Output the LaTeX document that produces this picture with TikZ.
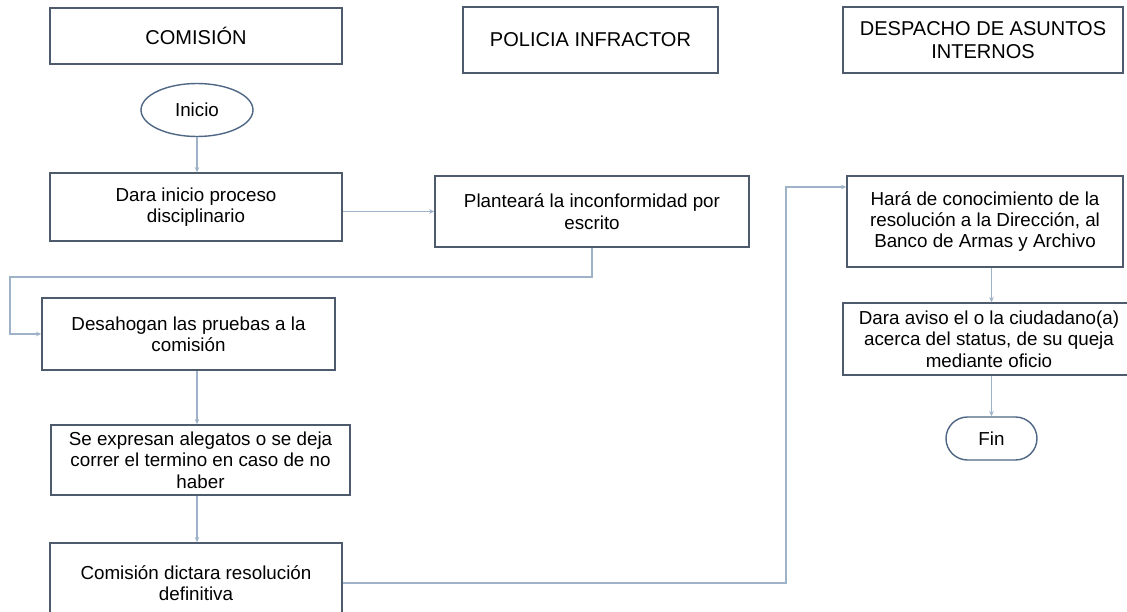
\documentclass[tikz,border=0pt]{standalone}
\usepackage{fontspec}
\setmainfont{Liberation Sans}
\usetikzlibrary{arrows.meta,shapes.geometric}
\definecolor{boxline}{HTML}{4D5B6C}
\definecolor{ovalline}{HTML}{4F6784}
\definecolor{linkline}{HTML}{9FB3C8}
\begin{document}
\begin{tikzpicture}[x=0.02cm, y=-0.02cm, >={Stealth[length=3pt,width=2.6pt]},
  head/.style={draw=boxline, line width=0.8pt, align=center, inner sep=2pt, font=\fontsize{11.4}{13.2}\selectfont},
  stepbox/.style={draw=boxline, line width=0.8pt, align=center, inner sep=2pt, font=\fontsize{10.7}{12.2}\selectfont},
  link/.style={draw=linkline, line width=0.6pt, ->}]
\useasboundingbox (0,0) rectangle (1127,612);
\node[head, minimum width=5.84cm, minimum height=1.12cm] (hcom) at (196,36) {COMISIÓN};
\node[head, minimum width=5.10cm, minimum height=1.32cm] (hpol) at (590.5,40) {POLICIA INFRACTOR};
\node[head, minimum width=5.60cm, minimum height=1.32cm] (hdes) at (983,40) {DESPACHO DE ASUNTOS\\INTERNOS};

\node[ellipse, draw=ovalline, line width=0.8pt, minimum width=2.24cm, minimum height=1.06cm, font=\fontsize{10.7}{12.2}\selectfont] (inicio) at (197,110) {Inicio};
\node[stepbox, minimum width=5.84cm, minimum height=1.36cm] (dara) at (196,207) {Dara inicio proceso\\disciplinario};
\node[stepbox, minimum width=6.28cm, minimum height=1.42cm] (plant) at (592,211.5) {Planteará la inconformidad por\\escrito};
\node[stepbox, minimum width=5.86cm, minimum height=1.44cm] (desah) at (188.5,334) {Desahogan las pruebas a la\\comisión};
\node[stepbox, minimum width=5.98cm, minimum height=1.40cm] (alega) at (200.5,460) {Se expresan alegatos o se deja\\correr el termino en caso de no\\haber};
\node[stepbox, minimum width=5.84cm, minimum height=1.60cm] (dicta) at (196,583) {Comisión dictara resolución\\definitiva};
\node[stepbox, minimum width=5.52cm, minimum height=1.82cm] (hara) at (985,221.5) {Hará de conocimiento de la\\resolución a la Dirección, al\\Banco de Armas y Archivo};
\node[stepbox, minimum width=5.84cm, minimum height=1.44cm] (aviso) at (989,339) {Dara aviso el o la ciudadano(a)\\acerca del status, de su queja\\mediante oficio};
\node[draw=ovalline, line width=0.8pt, rounded corners=0.43cm, minimum width=1.82cm, minimum height=0.86cm, font=\fontsize{10.7}{12.2}\selectfont] (fin) at (991.5,438.5) {Fin};

\coordinate (k1) at (10,277);
\coordinate (k2) at (786,187);
\draw[link] (inicio.south) -- (inicio.south |- dara.north);
\draw[link] (dara.east |- plant.west) -- (plant.west);
\draw[link] (plant.south) |- (k1) |- (desah.west);
\draw[link] (desah.south -| inicio.south) -- (alega.north -| inicio.south);
\draw[link] (alega.south -| inicio.south) -- (dicta.north -| inicio.south);
\draw[link] (dicta.east) -| (k2) -- (k2 -| hara.west);
\draw[link] (hara.south -| fin.north) -- (aviso.north -| fin.north);
\draw[link] (aviso.south -| fin.north) -- (fin.north);
\end{tikzpicture}
\end{document}
